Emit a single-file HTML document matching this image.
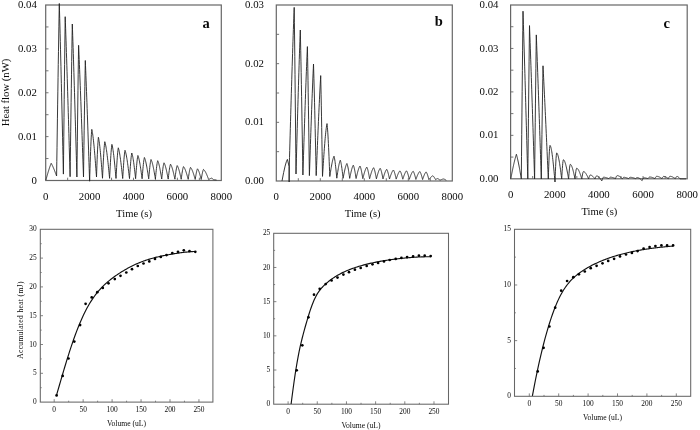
<!DOCTYPE html>
<html><head><meta charset="utf-8"><title>Figure</title>
<style>
html,body{margin:0;padding:0;background:#fff;}
body{width:700px;height:430px;overflow:hidden;font-family:"Liberation Serif",serif;}
svg{display:block;position:absolute;left:0;top:0;filter:grayscale(1);}
svg text{font-family:"Liberation Serif",serif;fill:#0a0a0a;}
</style></head><body>
<svg width="700" height="430" viewBox="0 0 700 430">
<rect width="700" height="430" fill="#fff"/>
<rect x="45.7" y="5" width="175.6" height="175.5" fill="none" stroke="#666" stroke-width="1.2"/>
<line x1="45.7" y1="158.56" x2="48.5" y2="158.56" stroke="#666" stroke-width="0.9"/>
<line x1="45.7" y1="136.62" x2="48.5" y2="136.62" stroke="#666" stroke-width="0.9"/>
<line x1="45.7" y1="114.69" x2="48.5" y2="114.69" stroke="#666" stroke-width="0.9"/>
<line x1="45.7" y1="92.75" x2="48.5" y2="92.75" stroke="#666" stroke-width="0.9"/>
<line x1="45.7" y1="70.81" x2="48.5" y2="70.81" stroke="#666" stroke-width="0.9"/>
<line x1="45.7" y1="48.88" x2="48.5" y2="48.88" stroke="#666" stroke-width="0.9"/>
<line x1="45.7" y1="26.94" x2="48.5" y2="26.94" stroke="#666" stroke-width="0.9"/>
<line x1="67.65" y1="180.5" x2="67.65" y2="177.7" stroke="#666" stroke-width="0.9"/>
<line x1="89.6" y1="180.5" x2="89.6" y2="177.7" stroke="#666" stroke-width="0.9"/>
<line x1="111.55" y1="180.5" x2="111.55" y2="177.7" stroke="#666" stroke-width="0.9"/>
<line x1="133.5" y1="180.5" x2="133.5" y2="177.7" stroke="#666" stroke-width="0.9"/>
<line x1="155.45" y1="180.5" x2="155.45" y2="177.7" stroke="#666" stroke-width="0.9"/>
<line x1="177.4" y1="180.5" x2="177.4" y2="177.7" stroke="#666" stroke-width="0.9"/>
<line x1="199.35" y1="180.5" x2="199.35" y2="177.7" stroke="#666" stroke-width="0.9"/>
<text x="36.8" y="183.55" font-size="10.8" text-anchor="end" >0</text>
<text x="36.8" y="139.68" font-size="10.8" text-anchor="end" >0.01</text>
<text x="36.8" y="95.8" font-size="10.8" text-anchor="end" >0.02</text>
<text x="36.8" y="51.92" font-size="10.8" text-anchor="end" >0.03</text>
<text x="36.8" y="8.05" font-size="10.8" text-anchor="end" >0.04</text>
<text x="45.7" y="200.3" font-size="10.8" text-anchor="middle" >0</text>
<text x="89.6" y="200.3" font-size="10.8" text-anchor="middle" >2000</text>
<text x="133.5" y="200.3" font-size="10.8" text-anchor="middle" >4000</text>
<text x="177.4" y="200.3" font-size="10.8" text-anchor="middle" >6000</text>
<text x="221.3" y="200.3" font-size="10.8" text-anchor="middle" >8000</text>
<text x="134" y="216.9" font-size="10.6" text-anchor="middle" >Time (s)</text>
<path d="M45.9 180 L46.1 179.27 L46.31 178.53 L46.51 177.8 L46.72 177.07 L46.92 176.35 L47.12 175.63 L47.33 174.91 L47.53 174.21 L47.73 173.5 L47.94 172.81 L48.14 172.13 L48.35 171.45 L48.55 170.79 L48.75 170.13 L48.96 169.49 L49.16 168.86 L49.37 168.24 L49.57 167.63 L49.77 167.04 L49.98 166.46 L50.18 165.9 L50.38 165.35 L50.59 164.81 L50.79 164.29 L51 163.79 L51.2 163.3 L51.41 163.67 L51.62 164.06 L51.82 164.45 L52.03 164.86 L52.24 165.28 L52.45 165.7 L52.65 166.14 L52.86 166.59 L53.07 167.06 L53.28 167.53 L53.48 168.01 L53.69 168.49 L53.9 168.99 L54.11 169.5 L54.32 170.01 L54.52 170.53 L54.73 171.06 L54.94 171.59 L55.15 172.13 L55.35 172.68 L55.56 173.22 L55.77 173.77 L55.98 174.33 L56.18 174.88 L56.39 175.44 L56.6 176 L56.81 161.6 L57.02 147.25 L57.22 132.99 L57.43 118.86 L57.64 104.91 L57.85 91.17 L58.05 77.68 L58.26 64.47 L58.47 51.58 L58.68 39.02 L58.88 26.81 L59.09 14.97 L59.3 3.5 L59.5 10.83 L59.71 18.32 L59.91 25.96 L60.12 33.75 L60.32 41.7 L60.53 49.79 L60.73 58.02 L60.94 66.39 L61.14 74.89 L61.35 83.5 L61.55 92.23 L61.76 101.05 L61.96 109.98 L62.17 118.98 L62.38 128.05 L62.58 137.19 L62.78 146.37 L62.99 155.6 L63.2 164.84 L63.4 174.1 L63.6 155.13 L63.8 136.29 L64 117.7 L64.2 99.46 L64.4 81.69 L64.6 64.46 L64.8 47.85 L65 31.92 L65.2 16.7 L65.4 22.42 L65.61 28.24 L65.81 34.16 L66.02 40.18 L66.22 46.31 L66.42 52.53 L66.63 58.84 L66.83 65.25 L67.04 71.74 L67.24 78.33 L67.45 84.99 L67.65 91.73 L67.85 98.54 L68.06 105.42 L68.26 112.37 L68.47 119.37 L68.67 126.42 L68.88 133.52 L69.08 140.65 L69.28 147.82 L69.49 155.02 L69.69 162.23 L69.9 169.46 L70.1 176.7 L70.3 161.64 L70.5 146.65 L70.7 131.79 L70.9 117.12 L71.1 102.7 L71.3 88.59 L71.5 74.83 L71.7 61.47 L71.9 48.53 L72.1 36.03 L72.3 24 L72.5 29.71 L72.7 35.52 L72.9 41.44 L73.1 47.47 L73.3 53.6 L73.5 59.83 L73.7 66.15 L73.9 72.58 L74.1 79.09 L74.3 85.69 L74.5 92.38 L74.7 99.14 L74.9 105.97 L75.1 112.88 L75.3 119.84 L75.5 126.86 L75.7 133.93 L75.9 141.04 L76.1 148.19 L76.3 155.37 L76.5 162.57 L76.7 169.78 L76.9 177 L77.11 159.15 L77.33 141.45 L77.54 124.05 L77.75 107.06 L77.96 90.61 L78.17 74.79 L78.39 59.67 L78.6 45.3 L78.8 50.01 L79.01 54.8 L79.21 59.67 L79.42 64.63 L79.62 69.67 L79.82 74.79 L80.03 79.99 L80.23 85.26 L80.44 90.61 L80.64 96.03 L80.85 101.51 L81.05 107.06 L81.25 112.67 L81.46 118.33 L81.66 124.05 L81.87 129.81 L82.07 135.61 L82.28 141.45 L82.48 147.33 L82.68 153.23 L82.89 159.15 L83.09 165.09 L83.3 171.04 L83.5 177 L83.72 161.21 L83.95 145.56 L84.17 130.16 L84.4 115.13 L84.62 100.58 L84.85 86.59 L85.08 73.21 L85.3 60.5 L85.5 65.44 L85.71 70.47 L85.91 75.61 L86.12 80.85 L86.32 86.18 L86.53 91.61 L86.73 97.12 L86.94 102.73 L87.14 108.42 L87.35 114.19 L87.55 120.03 L87.76 125.94 L87.96 131.92 L88.17 137.95 L88.37 144.03 L88.58 150.16 L88.78 156.32 L88.99 162.51 L89.19 168.73 L89.4 174.96 L89.6 181.2 L89.8 174.89 L90 168.68 L90.2 162.64 L90.4 156.86 L90.6 151.43 L90.8 146.41 L91 141.87 L91.2 137.86 L91.4 134.43 L91.6 131.6 L91.8 129.4 L92 130.29 L92.21 131.32 L92.41 132.48 L92.62 133.77 L92.82 135.19 L93.03 136.73 L93.23 138.4 L93.43 140.18 L93.64 142.08 L93.84 144.08 L94.05 146.19 L94.25 148.4 L94.46 150.7 L94.66 153.08 L94.87 155.54 L95.07 158.07 L95.27 160.65 L95.48 163.3 L95.68 165.98 L95.89 168.71 L96.09 171.46 L96.3 174.22 L96.5 177 L96.71 171.1 L96.92 165.32 L97.13 159.8 L97.34 154.63 L97.56 149.93 L97.77 145.78 L97.98 142.27 L98.19 139.43 L98.4 137.3 L98.61 138.2 L98.81 139.24 L99.02 140.44 L99.22 141.78 L99.43 143.27 L99.63 144.9 L99.84 146.66 L100.04 148.55 L100.25 150.57 L100.45 152.7 L100.66 154.93 L100.86 157.27 L101.06 159.7 L101.27 162.2 L101.47 164.77 L101.68 167.4 L101.89 170.08 L102.09 172.79 L102.3 175.53 L102.5 178.28 L102.71 173.83 L102.92 169.44 L103.13 165.17 L103.34 161.09 L103.55 157.26 L103.75 153.71 L103.96 150.5 L104.17 147.67 L104.38 145.25 L104.59 143.25 L104.8 141.7 L105 142.36 L105.2 143.11 L105.4 143.96 L105.6 144.89 L105.8 145.92 L106 147.04 L106.2 148.25 L106.4 149.53 L106.6 150.91 L106.8 152.36 L107 153.88 L107.2 155.47 L107.4 157.14 L107.6 158.86 L107.8 160.64 L108 162.47 L108.2 164.35 L108.4 166.28 L108.6 168.23 L108.8 170.22 L109 172.24 L109.2 174.27 L109.4 176.31 L109.6 178.36 L109.81 174.23 L110.02 170.15 L110.23 166.19 L110.44 162.4 L110.65 158.84 L110.85 155.55 L111.06 152.57 L111.27 149.95 L111.48 147.7 L111.69 145.84 L111.9 144.4 L112.11 145.14 L112.31 146.01 L112.52 147.01 L112.72 148.12 L112.93 149.36 L113.13 150.71 L113.34 152.18 L113.54 153.75 L113.75 155.42 L113.95 157.19 L114.16 159.05 L114.36 160.99 L114.56 163 L114.77 165.08 L114.97 167.22 L115.18 169.41 L115.39 171.63 L115.59 173.88 L115.8 176.16 L116 178.44 L116.21 174.71 L116.42 171.03 L116.63 167.46 L116.84 164.04 L117.05 160.83 L117.25 157.86 L117.46 155.18 L117.67 152.8 L117.88 150.77 L118.09 149.1 L118.3 147.8 L118.5 148.41 L118.7 149.1 L118.9 149.9 L119.1 150.78 L119.3 151.75 L119.5 152.82 L119.7 153.96 L119.9 155.19 L120.1 156.5 L120.3 157.89 L120.5 159.34 L120.7 160.86 L120.9 162.45 L121.1 164.09 L121.3 165.78 L121.5 167.51 L121.7 169.29 L121.9 171.09 L122.1 172.93 L122.3 174.78 L122.5 176.65 L122.7 178.52 L122.91 175.08 L123.12 171.7 L123.33 168.41 L123.54 165.26 L123.75 162.3 L123.95 159.57 L124.16 157.09 L124.37 154.91 L124.58 153.04 L124.79 151.5 L125 150.3 L125.2 150.86 L125.41 151.5 L125.61 152.23 L125.82 153.05 L126.02 153.94 L126.23 154.92 L126.43 155.98 L126.64 157.11 L126.84 158.32 L127.05 159.59 L127.25 160.93 L127.45 162.34 L127.66 163.79 L127.86 165.3 L128.07 166.86 L128.27 168.46 L128.48 170.09 L128.68 171.76 L128.89 173.45 L129.09 175.15 L129.3 176.87 L129.5 178.6 L129.71 175.48 L129.92 172.41 L130.13 169.43 L130.34 166.57 L130.55 163.89 L130.75 161.41 L130.96 159.16 L131.17 157.18 L131.38 155.48 L131.59 154.09 L131.8 153 L132.01 153.63 L132.22 154.38 L132.43 155.24 L132.64 156.21 L132.86 157.3 L133.07 158.49 L133.28 159.78 L133.49 161.17 L133.7 162.65 L133.91 164.21 L134.12 165.85 L134.33 167.55 L134.54 169.31 L134.76 171.13 L134.97 172.98 L135.18 174.86 L135.39 176.77 L135.6 178.68 L135.81 175.86 L136.02 173.08 L136.23 170.37 L136.44 167.79 L136.65 165.36 L136.85 163.11 L137.06 161.08 L137.27 159.29 L137.48 157.75 L137.69 156.48 L137.9 155.5 L138.11 156.01 L138.32 156.6 L138.53 157.28 L138.74 158.04 L138.95 158.89 L139.16 159.81 L139.37 160.81 L139.58 161.89 L139.79 163.03 L140 164.24 L140.21 165.51 L140.42 166.84 L140.63 168.21 L140.84 169.63 L141.05 171.09 L141.26 172.59 L141.47 174.11 L141.68 175.65 L141.89 177.2 L142.1 178.76 L142.31 176.17 L142.52 173.62 L142.73 171.14 L142.94 168.77 L143.15 166.54 L143.35 164.48 L143.56 162.62 L143.77 160.97 L143.98 159.56 L144.19 158.4 L144.4 157.5 L144.6 157.94 L144.81 158.46 L145.01 159.04 L145.22 159.69 L145.42 160.42 L145.63 161.21 L145.83 162.06 L146.04 162.98 L146.24 163.95 L146.45 164.98 L146.65 166.07 L146.86 167.2 L147.06 168.38 L147.27 169.59 L147.47 170.85 L147.68 172.13 L147.88 173.44 L148.09 174.77 L148.29 176.12 L148.5 177.48 L148.7 178.84 L148.91 176.49 L149.12 174.16 L149.33 171.91 L149.54 169.75 L149.75 167.72 L149.95 165.85 L150.16 164.16 L150.37 162.66 L150.58 161.38 L150.79 160.32 L151 159.5 L151.21 159.9 L151.42 160.37 L151.63 160.9 L151.84 161.5 L152.05 162.15 L152.26 162.87 L152.47 163.65 L152.68 164.48 L152.89 165.37 L153.1 166.31 L153.3 167.3 L153.51 168.33 L153.72 169.4 L153.93 170.5 L154.14 171.64 L154.35 172.81 L154.56 174.01 L154.77 175.22 L154.98 176.44 L155.19 177.68 L155.4 178.92 L155.61 176.7 L155.82 174.52 L156.03 172.39 L156.24 170.36 L156.45 168.45 L156.65 166.68 L156.86 165.09 L157.07 163.68 L157.28 162.47 L157.49 161.47 L157.7 160.7 L157.9 161.1 L158.1 161.57 L158.3 162.1 L158.5 162.7 L158.7 163.37 L158.9 164.09 L159.1 164.88 L159.3 165.72 L159.5 166.62 L159.7 167.58 L159.9 168.58 L160.1 169.62 L160.3 170.7 L160.5 171.82 L160.7 172.97 L160.9 174.14 L161.1 175.34 L161.3 176.55 L161.5 177.77 L161.7 179 L161.91 177.03 L162.12 175.08 L162.33 173.19 L162.54 171.39 L162.75 169.69 L162.95 168.12 L163.16 166.7 L163.37 165.45 L163.58 164.37 L163.79 163.49 L164 162.8 L164.21 163.16 L164.42 163.57 L164.63 164.05 L164.84 164.58 L165.05 165.17 L165.26 165.82 L165.47 166.52 L165.68 167.27 L165.89 168.07 L166.1 168.92 L166.31 169.81 L166.52 170.73 L166.73 171.7 L166.94 172.69 L167.15 173.71 L167.36 174.76 L167.57 175.82 L167.78 176.9 L167.99 177.99 L168.2 179.08 L168.41 177.27 L168.62 175.48 L168.83 173.75 L169.04 172.09 L169.25 170.53 L169.45 169.09 L169.66 167.78 L169.87 166.63 L170.08 165.64 L170.29 164.83 L170.5 164.2 L170.71 164.51 L170.92 164.87 L171.13 165.28 L171.34 165.74 L171.55 166.25 L171.76 166.8 L171.97 167.4 L172.18 168.04 L172.39 168.72 L172.6 169.45 L172.8 170.21 L173.01 171 L173.22 171.82 L173.43 172.68 L173.64 173.56 L173.85 174.46 L174.06 175.37 L174.27 176.31 L174.48 177.25 L174.69 178.2 L174.9 179.16 L175.11 177.51 L175.32 175.88 L175.53 174.3 L175.74 172.79 L175.95 171.37 L176.15 170.05 L176.36 168.86 L176.57 167.81 L176.78 166.92 L176.99 166.18 L177.2 165.6 L177.4 165.9 L177.6 166.25 L177.8 166.64 L178 167.09 L178.2 167.59 L178.4 168.13 L178.6 168.72 L178.8 169.35 L179 170.02 L179.2 170.73 L179.4 171.47 L179.6 172.25 L179.8 173.05 L180 173.89 L180.2 174.74 L180.4 175.62 L180.6 176.51 L180.8 177.41 L181 178.33 L181.2 179.24 L181.41 177.7 L181.62 176.18 L181.83 174.71 L182.04 173.3 L182.25 171.98 L182.45 170.75 L182.66 169.64 L182.87 168.66 L183.08 167.83 L183.29 167.14 L183.5 166.6 L183.7 166.84 L183.91 167.11 L184.11 167.42 L184.32 167.77 L184.52 168.15 L184.73 168.56 L184.93 169 L185.13 169.48 L185.34 169.99 L185.54 170.52 L185.75 171.09 L185.95 171.68 L186.16 172.29 L186.36 172.93 L186.57 173.58 L186.77 174.26 L186.97 174.95 L187.18 175.66 L187.38 176.38 L187.59 177.1 L187.79 177.84 L188 178.58 L188.2 179.32 L188.41 177.87 L188.62 176.44 L188.83 175.05 L189.04 173.72 L189.25 172.47 L189.45 171.31 L189.66 170.27 L189.87 169.35 L190.08 168.56 L190.29 167.91 L190.5 167.4 L190.7 167.63 L190.91 167.88 L191.11 168.18 L191.32 168.5 L191.52 168.86 L191.73 169.25 L191.93 169.67 L192.13 170.12 L192.34 170.6 L192.54 171.1 L192.75 171.63 L192.95 172.19 L193.16 172.77 L193.36 173.37 L193.57 173.99 L193.77 174.63 L193.97 175.28 L194.18 175.95 L194.38 176.62 L194.59 177.31 L194.79 178 L195 178.7 L195.2 179.4 L195.41 178.11 L195.62 176.84 L195.83 175.6 L196.04 174.42 L196.25 173.31 L196.45 172.28 L196.66 171.35 L196.87 170.53 L197.08 169.83 L197.29 169.25 L197.5 168.8 L197.71 169.06 L197.91 169.37 L198.12 169.73 L198.32 170.14 L198.53 170.59 L198.73 171.08 L198.94 171.62 L199.14 172.2 L199.35 172.81 L199.56 173.46 L199.76 174.14 L199.97 174.85 L200.17 175.59 L200.38 176.34 L200.58 177.11 L200.79 177.89 L200.99 178.68 L201.2 179.48 L201.41 178.25 L201.62 177.04 L201.83 175.87 L202.04 174.74 L202.25 173.69 L202.45 172.71 L202.66 171.83 L202.87 171.05 L203.08 170.38 L203.29 169.83 L203.5 169.4 L203.71 169.58 L203.92 169.77 L204.12 170 L204.33 170.25 L204.54 170.52 L204.75 170.81 L204.96 171.12 L205.16 171.46 L205.37 171.82 L205.58 172.2 L205.79 172.6 L206 173.02 L206.2 173.45 L206.41 173.9 L206.62 174.37 L206.83 174.85 L207.04 175.35 L207.24 175.85 L207.45 176.37 L207.66 176.89 L207.87 177.43 L208.08 177.96 L208.28 178.51 L208.49 179.05 L208.7 179.6 L208.9 179.47 L209.1 179.33 L209.3 179.2 L209.5 179.08 L209.7 178.95 L209.9 178.84 L210.1 178.73 L210.3 178.62 L210.5 178.53 L210.7 178.44 L210.9 178.37 L211.1 178.3 L211.3 178.25 L211.5 178.2 L211.71 178.27 L211.92 178.36 L212.13 178.48 L212.34 178.61 L212.55 178.76 L212.76 178.93 L212.97 179.11 L213.18 179.3 L213.39 179.5 L213.6 179.7 L213.81 179.71 L214.01 179.72 L214.22 179.74 L214.43 179.75 L214.64 179.77 L214.84 179.79 L215.05 179.81 L215.26 179.84 L215.46 179.86 L215.67 179.89 L215.88 179.91 L216.09 179.94 L216.29 179.97 L216.5 180" fill="none" stroke="#222" stroke-width="0.9" stroke-linejoin="round"/>
<text x="202.4" y="27.7" font-size="14.5" text-anchor="start" font-weight="bold" fill="#000">a</text>
<rect x="276.3" y="5" width="176" height="176" fill="none" stroke="#666" stroke-width="1.2"/>
<line x1="276.3" y1="151.67" x2="279.1" y2="151.67" stroke="#666" stroke-width="0.9"/>
<line x1="276.3" y1="122.33" x2="279.1" y2="122.33" stroke="#666" stroke-width="0.9"/>
<line x1="276.3" y1="93" x2="279.1" y2="93" stroke="#666" stroke-width="0.9"/>
<line x1="276.3" y1="63.67" x2="279.1" y2="63.67" stroke="#666" stroke-width="0.9"/>
<line x1="276.3" y1="34.33" x2="279.1" y2="34.33" stroke="#666" stroke-width="0.9"/>
<line x1="298.3" y1="181" x2="298.3" y2="178.2" stroke="#666" stroke-width="0.9"/>
<line x1="320.3" y1="181" x2="320.3" y2="178.2" stroke="#666" stroke-width="0.9"/>
<line x1="342.3" y1="181" x2="342.3" y2="178.2" stroke="#666" stroke-width="0.9"/>
<line x1="364.3" y1="181" x2="364.3" y2="178.2" stroke="#666" stroke-width="0.9"/>
<line x1="386.3" y1="181" x2="386.3" y2="178.2" stroke="#666" stroke-width="0.9"/>
<line x1="408.3" y1="181" x2="408.3" y2="178.2" stroke="#666" stroke-width="0.9"/>
<line x1="430.3" y1="181" x2="430.3" y2="178.2" stroke="#666" stroke-width="0.9"/>
<text x="264" y="184.05" font-size="10.8" text-anchor="end" >0.00</text>
<text x="264" y="125.38" font-size="10.8" text-anchor="end" >0.01</text>
<text x="264" y="66.72" font-size="10.8" text-anchor="end" >0.02</text>
<text x="264" y="8.05" font-size="10.8" text-anchor="end" >0.03</text>
<text x="276.3" y="200.3" font-size="10.8" text-anchor="middle" >0</text>
<text x="320.3" y="200.3" font-size="10.8" text-anchor="middle" >2000</text>
<text x="364.3" y="200.3" font-size="10.8" text-anchor="middle" >4000</text>
<text x="408.3" y="200.3" font-size="10.8" text-anchor="middle" >6000</text>
<text x="452.3" y="200.3" font-size="10.8" text-anchor="middle" >8000</text>
<text x="362.7" y="216.9" font-size="10.6" text-anchor="middle" >Time (s)</text>
<path d="M282 181 Q285.5 162 287.4 159.4 L289.1 166.4 L289.15 182 L289.3 165 L289.3 165 L289.5 157.69 L289.71 150.38 L289.91 143.09 L290.12 135.83 L290.32 128.6 L290.52 121.42 L290.73 114.29 L290.93 107.21 L291.14 100.21 L291.34 93.28 L291.55 86.43 L291.75 79.67 L291.95 73.01 L292.16 66.45 L292.36 59.99 L292.57 53.65 L292.77 47.42 L292.98 41.32 L293.18 35.34 L293.38 29.49 L293.59 23.77 L293.79 18.18 L294 12.72 L294.2 7.4 L294.4 22.72 L294.6 39.03 L294.8 56.29 L295 74.43 L295.2 93.35 L295.4 112.91 L295.6 132.99 L295.8 153.41 L296 174 L296.2 166.36 L296.41 158.74 L296.61 151.13 L296.82 143.57 L297.02 136.05 L297.23 128.59 L297.43 121.2 L297.64 113.89 L297.84 106.67 L298.05 99.55 L298.25 92.55 L298.46 85.65 L298.66 78.89 L298.87 72.26 L299.07 65.77 L299.28 59.42 L299.48 53.22 L299.69 47.18 L299.89 41.29 L300.1 35.57 L300.3 30 L300.52 39.91 L300.73 50.32 L300.95 61.21 L301.17 72.55 L301.38 84.33 L301.6 96.49 L301.82 109.01 L302.03 121.83 L302.25 134.9 L302.47 148.16 L302.68 161.55 L302.9 175 L303.1 168.5 L303.31 162.01 L303.51 155.53 L303.72 149.09 L303.92 142.68 L304.13 136.32 L304.33 130.01 L304.54 123.76 L304.74 117.59 L304.95 111.49 L305.15 105.48 L305.35 99.56 L305.56 93.74 L305.76 88.03 L305.97 82.42 L306.17 76.94 L306.38 71.56 L306.58 66.32 L306.79 61.19 L306.99 56.2 L307.2 51.33 L307.4 46.6 L307.6 57.24 L307.8 68.5 L308 80.37 L308.2 92.81 L308.4 105.76 L308.6 119.16 L308.8 132.93 L309 146.99 L309.2 161.24 L309.4 175.6 L309.6 169.38 L309.81 163.18 L310.01 157 L310.22 150.85 L310.42 144.74 L310.63 138.68 L310.83 132.69 L311.04 126.77 L311.25 120.93 L311.45 115.18 L311.65 109.52 L311.86 103.97 L312.06 98.54 L312.27 93.22 L312.48 88.02 L312.68 82.95 L312.88 78.01 L313.09 73.2 L313.3 68.53 L313.5 64 L313.71 71.03 L313.92 78.38 L314.12 86.05 L314.33 94.03 L314.54 102.29 L314.75 110.82 L314.95 119.59 L315.16 128.58 L315.37 137.76 L315.58 147.08 L315.78 156.52 L315.99 166.04 L316.2 175.6 L316.4 170.54 L316.61 165.48 L316.81 160.44 L317.02 155.42 L317.22 150.43 L317.43 145.47 L317.63 140.56 L317.84 135.7 L318.04 130.89 L318.25 126.14 L318.45 121.46 L318.65 116.85 L318.86 112.32 L319.06 107.87 L319.27 103.5 L319.47 99.23 L319.68 95.04 L319.88 90.96 L320.09 86.97 L320.29 83.08 L320.5 79.29 L320.7 75.6 L320.9 84.87 L321.1 94.74 L321.3 105.18 L321.5 116.16 L321.7 127.6 L321.9 139.44 L322.1 151.58 L322.3 163.94 L322.5 176.4 L322.7 173.18 L322.91 169.97 L323.11 166.79 L323.32 163.63 L323.52 160.53 L323.73 157.48 L323.93 154.5 L324.14 151.59 L324.34 148.77 L324.55 146.05 L324.75 143.44 L324.95 140.94 L325.16 138.56 L325.36 136.31 L325.57 134.2 L325.77 132.22 L325.98 130.4 L326.18 128.72 L326.39 127.2 L326.59 125.84 L326.8 124.64 L327 123.6 L327.2 125.31 L327.4 127.42 L327.6 129.92 L327.8 132.79 L328 136.02 L328.2 139.59 L328.4 143.48 L328.6 147.64 L328.8 152.06 L329 156.68 L329.2 161.48 L329.4 166.41 L329.6 171.43 L329.8 176.5 L330.01 175.14 L330.22 173.78 L330.43 172.44 L330.64 171.11 L330.85 169.81 L331.06 168.53 L331.27 167.29 L331.48 166.09 L331.69 164.94 L331.9 163.83 L332.11 162.77 L332.32 161.77 L332.53 160.84 L332.74 159.96 L332.95 159.16 L333.16 158.42 L333.37 157.75 L333.58 157.16 L333.79 156.64 L334 156.2 L334.2 156.91 L334.4 157.79 L334.6 158.83 L334.8 160.02 L335 161.37 L335.2 162.85 L335.4 164.47 L335.6 166.2 L335.8 168.03 L336 169.96 L336.2 171.95 L336.4 174.01 L336.6 176.09 L336.8 178.2 L337.01 176.78 L337.21 175.37 L337.42 173.97 L337.62 172.6 L337.83 171.27 L338.04 169.97 L338.24 168.73 L338.45 167.54 L338.65 166.41 L338.86 165.35 L339.06 164.36 L339.27 163.45 L339.48 162.62 L339.68 161.88 L339.89 161.23 L340.09 160.67 L340.3 160.2 L340.5 160.79 L340.7 161.51 L340.9 162.36 L341.1 163.34 L341.3 164.45 L341.5 165.67 L341.7 167 L341.9 168.43 L342.1 169.94 L342.3 171.52 L342.5 173.16 L342.7 174.85 L342.9 176.57 L343.1 178.3 L343.31 177.2 L343.52 176.1 L343.73 175.02 L343.94 173.95 L344.16 172.9 L344.37 171.89 L344.58 170.9 L344.79 169.96 L345 169.06 L345.21 168.21 L345.42 167.41 L345.63 166.66 L345.84 165.98 L346.06 165.35 L346.27 164.79 L346.48 164.29 L346.69 163.86 L346.9 163.5 L347.1 163.98 L347.3 164.58 L347.5 165.28 L347.7 166.09 L347.9 167 L348.1 168 L348.3 169.1 L348.5 170.27 L348.7 171.52 L348.9 172.82 L349.1 174.17 L349.3 175.56 L349.5 176.97 L349.7 178.4 L349.9 177.42 L350.1 176.44 L350.3 175.47 L350.5 174.52 L350.7 173.59 L350.9 172.68 L351.1 171.8 L351.3 170.96 L351.5 170.16 L351.7 169.4 L351.9 168.69 L352.1 168.02 L352.3 167.41 L352.5 166.85 L352.7 166.35 L352.9 165.91 L353.1 165.52 L353.3 165.2 L353.5 165.63 L353.7 166.16 L353.9 166.79 L354.1 167.51 L354.3 168.32 L354.5 169.22 L354.7 170.2 L354.9 171.24 L355.1 172.35 L355.3 173.52 L355.5 174.72 L355.7 175.96 L355.9 177.23 L356.1 178.5 L356.31 177.62 L356.51 176.74 L356.72 175.87 L356.92 175.01 L357.13 174.17 L357.33 173.35 L357.54 172.56 L357.74 171.79 L357.95 171.05 L358.15 170.35 L358.36 169.69 L358.56 169.06 L358.77 168.48 L358.97 167.95 L359.18 167.46 L359.38 167.02 L359.59 166.63 L359.79 166.29 L360 166 L360.2 166.41 L360.4 166.91 L360.6 167.5 L360.8 168.19 L361 168.96 L361.2 169.81 L361.4 170.73 L361.6 171.73 L361.8 172.78 L362 173.88 L362.2 175.02 L362.4 176.2 L362.6 177.39 L362.8 178.6 L363 177.83 L363.2 177.06 L363.4 176.3 L363.6 175.55 L363.8 174.81 L364 174.09 L364.2 173.38 L364.4 172.7 L364.6 172.05 L364.8 171.42 L365 170.82 L365.2 170.26 L365.4 169.73 L365.6 169.23 L365.8 168.78 L366 168.36 L366.2 167.98 L366.4 167.64 L366.6 167.35 L366.8 167.1 L367 167.48 L367.2 167.94 L367.4 168.48 L367.6 169.11 L367.8 169.82 L368 170.61 L368.2 171.46 L368.4 172.37 L368.6 173.34 L368.8 174.35 L369 175.41 L369.2 176.49 L369.4 177.59 L369.6 178.7 L369.8 177.96 L370 177.23 L370.2 176.5 L370.4 175.78 L370.6 175.07 L370.8 174.38 L371 173.71 L371.2 173.06 L371.4 172.43 L371.6 171.83 L371.8 171.26 L372 170.72 L372.2 170.21 L372.4 169.74 L372.6 169.3 L372.8 168.9 L373 168.54 L373.2 168.22 L373.4 167.94 L373.6 167.7 L373.8 168.06 L374 168.5 L374.2 169.03 L374.4 169.63 L374.6 170.31 L374.8 171.06 L375 171.87 L375.2 172.74 L375.4 173.67 L375.6 174.64 L375.8 175.65 L376 176.68 L376.2 177.74 L376.4 178.8 L376.61 178.02 L376.82 177.24 L377.03 176.47 L377.24 175.71 L377.46 174.97 L377.67 174.25 L377.88 173.55 L378.09 172.88 L378.3 172.25 L378.51 171.64 L378.72 171.07 L378.93 170.54 L379.14 170.06 L379.36 169.61 L379.57 169.21 L379.78 168.86 L379.99 168.56 L380.2 168.3 L380.4 168.64 L380.6 169.07 L380.8 169.57 L381 170.14 L381.2 170.79 L381.4 171.5 L381.6 172.28 L381.8 173.12 L382 174 L382.2 174.93 L382.4 175.89 L382.6 176.88 L382.8 177.89 L383 178.9 L383.21 178.18 L383.41 177.47 L383.62 176.77 L383.82 176.08 L384.03 175.4 L384.23 174.74 L384.44 174.1 L384.64 173.49 L384.85 172.91 L385.06 172.35 L385.26 171.84 L385.47 171.35 L385.67 170.91 L385.88 170.5 L386.08 170.14 L386.29 169.81 L386.49 169.54 L386.7 169.3 L386.9 169.61 L387.1 170 L387.3 170.46 L387.5 170.98 L387.7 171.58 L387.9 172.23 L388.1 172.94 L388.3 173.71 L388.5 174.52 L388.7 175.37 L388.9 176.25 L389.1 177.15 L389.3 178.07 L389.5 179 L389.71 178.36 L389.91 177.73 L390.12 177.11 L390.32 176.49 L390.53 175.88 L390.73 175.29 L390.94 174.72 L391.14 174.17 L391.35 173.64 L391.55 173.13 L391.76 172.65 L391.96 172.21 L392.17 171.79 L392.37 171.4 L392.58 171.05 L392.78 170.73 L392.99 170.45 L393.19 170.21 L393.4 170 L393.6 170.29 L393.8 170.66 L394 171.09 L394.2 171.58 L394.4 172.14 L394.6 172.75 L394.8 173.42 L395 174.14 L395.2 174.9 L395.4 175.69 L395.6 176.52 L395.8 177.37 L396 178.23 L396.2 179.1 L396.4 178.51 L396.6 177.93 L396.8 177.35 L397 176.78 L397.2 176.23 L397.4 175.68 L397.6 175.15 L397.8 174.64 L398 174.15 L398.2 173.69 L398.4 173.25 L398.6 172.83 L398.8 172.45 L399 172.09 L399.2 171.77 L399.4 171.48 L399.6 171.22 L399.8 170.99 L400 170.8 L400.2 171.07 L400.4 171.41 L400.6 171.8 L400.8 172.26 L401 172.77 L401.2 173.34 L401.4 173.96 L401.6 174.62 L401.8 175.32 L402 176.05 L402.2 176.82 L402.4 177.6 L402.6 178.4 L402.8 179.2 L403.01 178.57 L403.21 177.95 L403.42 177.34 L403.62 176.73 L403.83 176.14 L404.03 175.56 L404.24 175 L404.44 174.47 L404.65 173.96 L404.86 173.47 L405.06 173.02 L405.27 172.6 L405.47 172.21 L405.68 171.85 L405.88 171.53 L406.09 171.25 L406.29 171.01 L406.5 170.8 L406.7 171.07 L406.9 171.41 L407.1 171.81 L407.3 172.28 L407.5 172.8 L407.7 173.37 L407.9 173.99 L408.1 174.66 L408.3 175.37 L408.5 176.12 L408.7 176.89 L408.9 177.68 L409.1 178.49 L409.3 179.3 L409.5 178.73 L409.7 178.16 L409.9 177.6 L410.1 177.04 L410.3 176.5 L410.5 175.96 L410.7 175.45 L410.9 174.95 L411.1 174.47 L411.3 174.02 L411.5 173.59 L411.7 173.19 L411.9 172.81 L412.1 172.46 L412.3 172.15 L412.5 171.86 L412.7 171.61 L412.9 171.39 L413.1 171.2 L413.3 171.47 L413.5 171.79 L413.7 172.18 L413.9 172.62 L414.1 173.13 L414.3 173.68 L414.5 174.28 L414.7 174.93 L414.9 175.61 L415.1 176.33 L415.3 177.07 L415.5 177.84 L415.7 178.61 L415.9 179.4 L416.11 178.84 L416.31 178.29 L416.52 177.74 L416.72 177.2 L416.93 176.66 L417.13 176.15 L417.34 175.64 L417.54 175.16 L417.75 174.69 L417.95 174.25 L418.16 173.83 L418.36 173.44 L418.57 173.07 L418.77 172.73 L418.98 172.42 L419.18 172.14 L419.39 171.9 L419.59 171.68 L419.8 171.5 L420 171.76 L420.2 172.08 L420.4 172.46 L420.6 172.89 L420.8 173.38 L421 173.92 L421.2 174.51 L421.4 175.14 L421.6 175.8 L421.8 176.5 L422 177.23 L422.2 177.97 L422.4 178.73 L422.6 179.5 L422.81 178.9 L423.01 178.3 L423.22 177.72 L423.42 177.14 L423.63 176.57 L423.84 176.03 L424.04 175.5 L424.25 175 L424.45 174.52 L424.66 174.07 L424.86 173.66 L425.07 173.27 L425.28 172.92 L425.48 172.61 L425.69 172.34 L425.89 172.1 L426.1 171.9 L426.3 172.15 L426.5 172.46 L426.7 172.82 L426.9 173.24 L427.1 173.71 L427.3 174.23 L427.5 174.79 L427.7 175.4 L427.9 176.04 L428.1 176.72 L428.3 177.41 L428.5 178.13 L428.7 178.86 L428.9 179.6 L429.11 179.33 L429.31 179.06 L429.52 178.8 L429.72 178.54 L429.93 178.28 L430.13 178.03 L430.34 177.79 L430.54 177.56 L430.75 177.34 L430.95 177.12 L431.16 176.92 L431.36 176.73 L431.57 176.55 L431.77 176.39 L431.98 176.24 L432.18 176.11 L432.39 175.99 L432.59 175.89 L432.8 175.8 L433 175.93 L433.2 176.08 L433.4 176.27 L433.6 176.48 L433.8 176.72 L434 176.98 L434.2 177.27 L434.4 177.57 L434.6 177.9 L434.8 178.24 L435 178.59 L435.2 178.96 L435.4 179.33 L435.6 179.7 L435.81 179.54 L436.02 179.38 L436.23 179.22 L436.44 179.08 L436.66 178.95 L436.87 178.84 L437.08 178.74 L437.29 178.66 L437.5 178.6 L437.71 178.66 L437.92 178.74 L438.12 178.83 L438.33 178.94 L438.54 179.07 L438.75 179.2 L438.96 179.35 L439.17 179.51 L439.38 179.67 L439.58 179.84 L439.79 180.02 L440 180.2 L440.21 180.11 L440.41 180.01 L440.62 179.92 L440.82 179.83 L441.03 179.74 L441.24 179.65 L441.44 179.57 L441.65 179.49 L441.85 179.41 L442.06 179.34 L442.26 179.28 L442.47 179.22 L442.68 179.16 L442.88 179.11 L443.09 179.07 L443.29 179.03 L443.5 179 L443.7 179.04 L443.9 179.09 L444.1 179.16 L444.3 179.23 L444.5 179.31 L444.7 179.39 L444.9 179.49 L445.1 179.59 L445.3 179.7 L445.5 179.81 L445.7 179.93 L445.9 180.05 L446.1 180.18 L446.3 180.3" fill="none" stroke="#222" stroke-width="0.9" stroke-linejoin="round"/>
<text x="434.7" y="25.9" font-size="14.5" text-anchor="start" font-weight="bold" fill="#000">b</text>
<rect x="510.6" y="5" width="176.6" height="173.8" fill="none" stroke="#666" stroke-width="1.2"/>
<line x1="510.6" y1="157.08" x2="513.4" y2="157.08" stroke="#666" stroke-width="0.9"/>
<line x1="510.6" y1="135.35" x2="513.4" y2="135.35" stroke="#666" stroke-width="0.9"/>
<line x1="510.6" y1="113.62" x2="513.4" y2="113.62" stroke="#666" stroke-width="0.9"/>
<line x1="510.6" y1="91.9" x2="513.4" y2="91.9" stroke="#666" stroke-width="0.9"/>
<line x1="510.6" y1="70.18" x2="513.4" y2="70.18" stroke="#666" stroke-width="0.9"/>
<line x1="510.6" y1="48.45" x2="513.4" y2="48.45" stroke="#666" stroke-width="0.9"/>
<line x1="510.6" y1="26.72" x2="513.4" y2="26.72" stroke="#666" stroke-width="0.9"/>
<line x1="532.68" y1="178.8" x2="532.68" y2="176" stroke="#666" stroke-width="0.9"/>
<line x1="554.75" y1="178.8" x2="554.75" y2="176" stroke="#666" stroke-width="0.9"/>
<line x1="576.83" y1="178.8" x2="576.83" y2="176" stroke="#666" stroke-width="0.9"/>
<line x1="598.9" y1="178.8" x2="598.9" y2="176" stroke="#666" stroke-width="0.9"/>
<line x1="620.98" y1="178.8" x2="620.98" y2="176" stroke="#666" stroke-width="0.9"/>
<line x1="643.05" y1="178.8" x2="643.05" y2="176" stroke="#666" stroke-width="0.9"/>
<line x1="665.12" y1="178.8" x2="665.12" y2="176" stroke="#666" stroke-width="0.9"/>
<text x="498.5" y="181.85" font-size="10.8" text-anchor="end" >0.00</text>
<text x="498.5" y="138.4" font-size="10.8" text-anchor="end" >0.01</text>
<text x="498.5" y="94.95" font-size="10.8" text-anchor="end" >0.02</text>
<text x="498.5" y="51.5" font-size="10.8" text-anchor="end" >0.03</text>
<text x="498.5" y="8.05" font-size="10.8" text-anchor="end" >0.04</text>
<text x="510.6" y="198.3" font-size="10.8" text-anchor="middle" >0</text>
<text x="554.75" y="198.3" font-size="10.8" text-anchor="middle" >2000</text>
<text x="598.9" y="198.3" font-size="10.8" text-anchor="middle" >4000</text>
<text x="643.05" y="198.3" font-size="10.8" text-anchor="middle" >6000</text>
<text x="687.2" y="198.3" font-size="10.8" text-anchor="middle" >8000</text>
<text x="599.4" y="214.9" font-size="10.6" text-anchor="middle" >Time (s)</text>
<path d="M510.8 178.6 L511.01 177.55 L511.21 176.49 L511.42 175.44 L511.63 174.4 L511.84 173.36 L512.04 172.33 L512.25 171.3 L512.46 170.29 L512.67 169.28 L512.87 168.29 L513.08 167.32 L513.29 166.35 L513.5 165.41 L513.7 164.48 L513.91 163.57 L514.12 162.67 L514.33 161.8 L514.53 160.95 L514.74 160.12 L514.95 159.31 L515.16 158.52 L515.36 157.76 L515.57 157.02 L515.78 156.3 L515.99 155.61 L516.19 154.94 L516.4 154.3 L516.6 155.03 L516.81 155.79 L517.01 156.58 L517.22 157.41 L517.42 158.26 L517.62 159.15 L517.83 160.06 L518.03 161 L518.24 161.97 L518.44 162.96 L518.65 163.98 L518.85 165.03 L519.05 166.09 L519.26 167.18 L519.46 168.29 L519.67 169.41 L519.87 170.55 L520.07 171.7 L520.28 172.86 L520.48 174.04 L520.69 175.22 L520.89 176.41 L521.1 177.6 L521.3 178.8 L521.51 156.68 L521.72 134.68 L521.94 112.92 L522.15 91.53 L522.36 70.59 L522.58 50.19 L522.79 30.38 L523 11.2 L523.21 17.8 L523.42 24.48 L523.63 31.24 L523.83 38.07 L524.04 44.98 L524.25 51.96 L524.46 59.02 L524.67 66.14 L524.88 73.33 L525.09 80.58 L525.3 87.9 L525.5 95.27 L525.71 102.69 L525.92 110.17 L526.13 117.69 L526.34 125.25 L526.55 132.85 L526.76 140.47 L526.97 148.13 L527.17 155.8 L527.38 163.49 L527.59 171.19 L527.8 178.9 L528.01 158.66 L528.22 138.54 L528.44 118.64 L528.65 99.08 L528.86 79.92 L529.08 61.26 L529.29 43.14 L529.5 25.6 L529.7 31.15 L529.91 36.76 L530.11 42.43 L530.32 48.16 L530.52 53.94 L530.72 59.79 L530.93 65.69 L531.13 71.65 L531.34 77.66 L531.54 83.72 L531.74 89.82 L531.95 95.98 L532.15 102.18 L532.36 108.42 L532.56 114.7 L532.76 121.02 L532.97 127.36 L533.17 133.74 L533.38 140.14 L533.58 146.57 L533.78 153.01 L533.99 159.47 L534.19 165.94 L534.4 172.42 L534.6 178.9 L534.81 159.89 L535.02 140.99 L535.24 122.3 L535.45 103.92 L535.66 85.93 L535.88 68.4 L536.09 51.38 L536.3 34.9 L536.5 40.11 L536.7 45.38 L536.9 50.71 L537.1 56.09 L537.3 61.52 L537.5 67.02 L537.7 72.56 L537.9 78.15 L538.1 83.8 L538.3 89.49 L538.5 95.23 L538.7 101.01 L538.9 106.83 L539.1 112.7 L539.3 118.6 L539.5 124.53 L539.7 130.49 L539.9 136.48 L540.1 142.5 L540.3 148.53 L540.5 154.58 L540.7 160.65 L540.9 166.73 L541.1 172.81 L541.3 178.9 L541.51 163.97 L541.72 149.12 L541.94 134.45 L542.15 120.01 L542.36 105.88 L542.58 92.11 L542.79 78.74 L543 65.8 L543.2 69.74 L543.41 73.71 L543.61 77.73 L543.82 81.79 L544.02 85.89 L544.22 90.02 L544.43 94.2 L544.63 98.42 L544.83 102.67 L545.04 106.95 L545.24 111.27 L545.45 115.62 L545.65 120.01 L545.85 124.42 L546.06 128.86 L546.26 133.33 L546.47 137.81 L546.67 142.32 L546.87 146.85 L547.08 151.4 L547.28 155.96 L547.48 160.53 L547.69 165.12 L547.89 169.71 L548.1 174.3 L548.3 178.9 L548.51 172.6 L548.72 166.52 L548.94 160.89 L549.15 155.91 L549.36 151.74 L549.58 148.53 L549.79 146.4 L550 145.4 L550.2 145.61 L550.4 145.95 L550.6 146.42 L550.8 147.02 L551 147.74 L551.2 148.59 L551.4 149.56 L551.6 150.65 L551.8 151.85 L552 153.15 L552.2 154.57 L552.4 156.08 L552.6 157.69 L552.8 159.39 L553 161.17 L553.2 163.03 L553.4 164.96 L553.6 166.95 L553.8 169 L554 171.09 L554.2 173.22 L554.4 175.39 L554.6 177.58 L554.8 179.79 L555 182 L555.21 176.53 L555.42 171.25 L555.64 166.36 L555.85 162.03 L556.06 158.41 L556.28 155.62 L556.49 153.77 L556.7 152.9 L556.91 153.06 L557.12 153.32 L557.33 153.67 L557.53 154.13 L557.74 154.68 L557.95 155.33 L558.16 156.07 L558.37 156.9 L558.58 157.82 L558.78 158.82 L558.99 159.9 L559.2 161.05 L559.41 162.28 L559.62 163.57 L559.82 164.92 L560.03 166.33 L560.24 167.79 L560.45 169.3 L560.66 170.84 L560.87 172.41 L561.07 174.01 L561.28 175.63 L561.49 177.26 L561.7 178.9 L561.91 175.29 L562.12 171.81 L562.34 168.58 L562.55 165.72 L562.76 163.33 L562.97 161.5 L563.19 160.27 L563.4 159.7 L563.61 159.81 L563.82 159.99 L564.02 160.24 L564.23 160.55 L564.44 160.93 L564.65 161.37 L564.86 161.88 L565.06 162.45 L565.27 163.08 L565.48 163.77 L565.69 164.51 L565.9 165.31 L566.1 166.15 L566.31 167.04 L566.52 167.98 L566.73 168.95 L566.94 169.96 L567.14 171 L567.35 172.08 L567.56 173.18 L567.77 174.3 L567.98 175.43 L568.18 176.58 L568.39 177.74 L568.6 178.9 L568.81 176.15 L569.02 173.51 L569.24 171.05 L569.45 168.88 L569.66 167.06 L569.88 165.67 L570.09 164.73 L570.3 164.3 L570.5 164.39 L570.71 164.55 L570.91 164.77 L571.12 165.04 L571.32 165.38 L571.53 165.77 L571.73 166.22 L571.93 166.72 L572.14 167.28 L572.34 167.88 L572.55 168.54 L572.75 169.23 L572.96 169.97 L573.16 170.75 L573.37 171.56 L573.57 172.41 L573.77 173.28 L573.98 174.18 L574.18 175.1 L574.39 176.04 L574.59 176.98 L574.8 177.94 L575 178.9 L575.21 176.89 L575.42 174.95 L575.64 173.15 L575.85 171.56 L576.06 170.22 L576.28 169.2 L576.49 168.52 L576.7 168.2 L576.9 168.26 L577.11 168.36 L577.31 168.5 L577.52 168.67 L577.72 168.89 L577.92 169.13 L578.13 169.42 L578.33 169.73 L578.54 170.08 L578.74 170.47 L578.94 170.88 L579.15 171.32 L579.35 171.79 L579.56 172.29 L579.76 172.81 L579.96 173.35 L580.17 173.92 L580.37 174.5 L580.58 175.1 L580.78 175.71 L580.98 176.33 L581.19 176.97 L581.39 177.61 L581.6 178.25 L581.8 178.9 L582.01 177.51 L582.22 176.17 L582.44 174.92 L582.65 173.82 L582.86 172.9 L583.08 172.19 L583.29 171.72 L583.5 171.5 L583.7 171.54 L583.91 171.61 L584.11 171.71 L584.32 171.83 L584.52 171.97 L584.72 172.15 L584.93 172.34 L585.13 172.56 L585.34 172.8 L585.54 173.07 L585.74 173.35 L585.95 173.66 L586.15 173.99 L586.36 174.33 L586.56 174.69 L586.76 175.06 L586.97 175.45 L587.17 175.86 L587.38 176.27 L587.58 176.69 L587.78 177.13 L587.99 177.56 L588.19 178.01 L588.4 178.45 L588.6 178.9 L588.81 178.17 L589.02 177.46 L589.24 176.8 L589.45 176.22 L589.66 175.74 L589.88 175.36 L590.09 175.12 L590.3 175 L590.5 175.03 L590.71 175.07 L590.91 175.12 L591.12 175.2 L591.32 175.29 L591.53 175.39 L591.73 175.51 L591.93 175.65 L592.14 175.8 L592.34 175.96 L592.55 176.13 L592.75 176.32 L592.96 176.52 L593.16 176.72 L593.37 176.94 L593.57 177.17 L593.77 177.4 L593.98 177.64 L594.18 177.89 L594.39 178.13 L594.59 178.39 L594.8 178.64 L595 178.9 L595.21 178.34 L595.42 177.79 L595.64 177.29 L595.85 176.84 L596.06 176.47 L596.28 176.18 L596.49 175.99 L596.7 175.9 L596.9 175.93 L597.11 175.98 L597.31 176.04 L597.52 176.13 L597.72 176.23 L597.92 176.34 L598.13 176.48 L598.33 176.63 L598.54 176.8 L598.74 176.98 L598.94 177.18 L599.15 177.39 L599.35 177.61 L599.56 177.85 L599.76 178.1 L599.96 178.36 L600.17 178.63 L600.37 178.9 L600.58 179.19 L600.78 179.48 L600.98 179.78 L601.19 180.08 L601.39 180.38 L601.6 180.69 L601.8 181 L602.01 180.29 L602.22 179.6 L602.44 178.96 L602.65 178.39 L602.86 177.92 L603.08 177.56 L603.29 177.31 L603.5 177.2 L603.7 177.21 L603.91 177.22 L604.11 177.24 L604.32 177.26 L604.52 177.28 L604.72 177.31 L604.93 177.35 L605.13 177.39 L605.33 177.43 L605.54 177.48 L605.74 177.53 L605.95 177.58 L606.15 177.64 L606.35 177.7 L606.56 177.76 L606.76 177.83 L606.97 177.9 L607.17 177.97 L607.37 178.05 L607.58 178.12 L607.78 178.2 L607.98 178.28 L608.19 178.36 L608.39 178.44 L608.6 178.52 L608.8 178.6 L609.01 178.34 L609.22 178.08 L609.44 177.85 L609.65 177.64 L609.86 177.46 L610.08 177.33 L610.29 177.24 L610.5 177.2 L610.7 177.21 L610.9 177.22 L611.1 177.24 L611.3 177.26 L611.5 177.29 L611.7 177.32 L611.9 177.36 L612.1 177.4 L612.3 177.45 L612.5 177.5 L612.7 177.55 L612.9 177.61 L613.1 177.67 L613.3 177.74 L613.5 177.8 L613.7 177.87 L613.9 177.95 L614.1 178.02 L614.3 178.1 L614.5 178.18 L614.7 178.26 L614.9 178.35 L615.1 178.43 L615.3 178.52 L615.5 178.6 L615.71 178.04 L615.92 177.49 L616.14 176.99 L616.35 176.54 L616.56 176.17 L616.78 175.88 L616.99 175.69 L617.2 175.6 L617.4 175.62 L617.61 175.65 L617.81 175.68 L618.02 175.73 L618.22 175.79 L618.42 175.86 L618.63 175.94 L618.83 176.03 L619.04 176.13 L619.24 176.24 L619.44 176.35 L619.65 176.48 L619.85 176.61 L620.06 176.75 L620.26 176.89 L620.46 177.05 L620.67 177.2 L620.87 177.37 L621.08 177.53 L621.28 177.71 L621.48 177.88 L621.69 178.06 L621.89 178.24 L622.1 178.42 L622.3 178.6 L622.51 178.36 L622.72 178.12 L622.94 177.9 L623.15 177.71 L623.36 177.55 L623.58 177.42 L623.79 177.34 L624 177.3 L624.2 177.31 L624.41 177.32 L624.61 177.34 L624.82 177.37 L625.02 177.4 L625.23 177.44 L625.43 177.48 L625.64 177.53 L625.84 177.59 L626.05 177.64 L626.25 177.71 L626.45 177.77 L626.66 177.85 L626.86 177.92 L627.07 178 L627.27 178.08 L627.48 178.16 L627.68 178.25 L627.89 178.33 L628.09 178.42 L628.3 178.51 L628.5 178.6 L628.71 178.36 L628.92 178.12 L629.14 177.9 L629.35 177.71 L629.56 177.55 L629.78 177.42 L629.99 177.34 L630.2 177.3 L630.41 177.31 L630.62 177.32 L630.82 177.33 L631.03 177.35 L631.24 177.38 L631.45 177.41 L631.65 177.44 L631.86 177.47 L632.07 177.51 L632.28 177.56 L632.48 177.6 L632.69 177.65 L632.9 177.71 L633.11 177.76 L633.32 177.82 L633.52 177.89 L633.73 177.95 L633.94 178.02 L634.15 178.08 L634.35 178.16 L634.56 178.23 L634.77 178.3 L634.98 178.37 L635.18 178.45 L635.39 178.52 L635.6 178.6 L635.81 178.41 L636.02 178.23 L636.24 178.06 L636.45 177.91 L636.66 177.79 L636.88 177.69 L637.09 177.63 L637.3 177.6 L637.51 177.62 L637.72 177.65 L637.93 177.7 L638.13 177.75 L638.34 177.82 L638.55 177.9 L638.76 177.99 L638.97 178.1 L639.18 178.21 L639.39 178.34 L639.6 178.47 L639.8 178.61 L640.01 178.77 L640.22 178.93 L640.43 179.09 L640.64 179.27 L640.85 179.45 L641.06 179.63 L641.27 179.82 L641.47 180.01 L641.68 180.21 L641.89 180.4 L642.1 180.6 L642.31 180.07 L642.52 179.57 L642.74 179.09 L642.95 178.68 L643.16 178.33 L643.38 178.06 L643.59 177.88 L643.8 177.8 L644 177.81 L644.2 177.82 L644.4 177.83 L644.6 177.85 L644.8 177.87 L645 177.89 L645.2 177.92 L645.4 177.96 L645.6 177.99 L645.8 178.03 L646 178.07 L646.2 178.12 L646.4 178.16 L646.6 178.21 L646.8 178.26 L647 178.32 L647.2 178.37 L647.4 178.43 L647.6 178.49 L647.8 178.54 L648 178.6 L648.21 178.3 L648.42 178.01 L648.64 177.74 L648.85 177.5 L649.06 177.3 L649.28 177.15 L649.49 177.05 L649.7 177 L649.9 177.01 L650.11 177.02 L650.31 177.04 L650.52 177.07 L650.72 177.1 L650.92 177.13 L651.13 177.17 L651.33 177.21 L651.53 177.26 L651.74 177.32 L651.94 177.37 L652.15 177.44 L652.35 177.5 L652.55 177.57 L652.76 177.64 L652.96 177.72 L653.17 177.8 L653.37 177.88 L653.57 177.97 L653.78 178.05 L653.98 178.14 L654.18 178.23 L654.39 178.32 L654.59 178.41 L654.8 178.51 L655 178.6 L655.21 178.17 L655.42 177.75 L655.64 177.36 L655.85 177.02 L656.06 176.74 L656.28 176.52 L656.49 176.37 L656.7 176.3 L656.9 176.31 L657.11 176.33 L657.31 176.36 L657.52 176.4 L657.72 176.44 L657.92 176.49 L658.13 176.54 L658.33 176.61 L658.53 176.68 L658.74 176.75 L658.94 176.84 L659.15 176.93 L659.35 177.02 L659.55 177.12 L659.76 177.23 L659.96 177.34 L660.17 177.45 L660.37 177.57 L660.57 177.69 L660.78 177.81 L660.98 177.94 L661.18 178.07 L661.39 178.2 L661.59 178.33 L661.8 178.47 L662 178.6 L662.21 178.19 L662.42 177.79 L662.64 177.42 L662.85 177.09 L663.06 176.82 L663.28 176.61 L663.49 176.47 L663.7 176.4 L663.91 176.42 L664.12 176.44 L664.33 176.48 L664.54 176.52 L664.75 176.57 L664.95 176.64 L665.16 176.71 L665.37 176.79 L665.58 176.88 L665.79 176.98 L666 177.09 L666.21 177.2 L666.42 177.32 L666.63 177.45 L666.84 177.58 L667.05 177.72 L667.25 177.86 L667.46 178 L667.67 178.15 L667.88 178.3 L668.09 178.45 L668.3 178.6 L668.51 178.17 L668.72 177.75 L668.94 177.36 L669.15 177.02 L669.36 176.74 L669.58 176.52 L669.79 176.37 L670 176.3 L670.2 176.31 L670.41 176.33 L670.61 176.36 L670.82 176.4 L671.02 176.44 L671.22 176.49 L671.43 176.54 L671.63 176.61 L671.83 176.68 L672.04 176.75 L672.24 176.84 L672.45 176.93 L672.65 177.02 L672.85 177.12 L673.06 177.23 L673.26 177.34 L673.47 177.45 L673.67 177.57 L673.87 177.69 L674.08 177.81 L674.28 177.94 L674.48 178.07 L674.69 178.2 L674.89 178.33 L675.1 178.47 L675.3 178.6 L675.51 178.19 L675.72 177.79 L675.94 177.42 L676.15 177.09 L676.36 176.82 L676.58 176.61 L676.79 176.47 L677 176.4 L677.2 176.43 L677.4 176.48 L677.6 176.55 L677.8 176.65 L678 176.77 L678.2 176.91 L678.4 177.07 L678.6 177.24 L678.8 177.43 L679 177.64 L679.2 177.86 L679.4 178.08 L679.6 178.32 L679.8 178.56 L680 178.8 L680.2 178.8 L680.4 178.8 L680.6 178.8 L680.8 178.8 L681 178.8 L681.2 178.8 L681.4 178.8 L681.6 178.8 L681.8 178.8 L682 178.8 L682.2 178.8 L682.4 178.8 L682.6 178.8 L682.8 178.8 L683 178.8 L683.2 178.8 L683.4 178.8 L683.6 178.8 L683.8 178.8 L684 178.8 L684.2 178.8 L684.4 178.8 L684.6 178.8 L684.8 178.8 L685 178.8 L685.2 178.8 L685.4 178.8 L685.6 178.8 L685.8 178.8 L686 178.8" fill="none" stroke="#222" stroke-width="0.9" stroke-linejoin="round"/>
<text x="663.6" y="28.4" font-size="14.5" text-anchor="start" font-weight="bold" fill="#000">c</text>
<text transform="translate(9.3,92.5) rotate(-90)" font-size="10.7" text-anchor="middle">Heat flow (nW)</text>
<rect x="40.3" y="229.3" width="172.6" height="172.8" fill="none" stroke="#666" stroke-width="1.05"/>
<text x="36.7" y="404.2" font-size="7.4" text-anchor="end" >0</text>
<line x1="40.3" y1="387.7" x2="41.7" y2="387.7" stroke="#666" stroke-width="0.8"/>
<line x1="40.3" y1="373.3" x2="43" y2="373.3" stroke="#666" stroke-width="0.8"/>
<text x="36.7" y="375.4" font-size="7.4" text-anchor="end" >5</text>
<line x1="40.3" y1="358.9" x2="41.7" y2="358.9" stroke="#666" stroke-width="0.8"/>
<line x1="40.3" y1="344.5" x2="43" y2="344.5" stroke="#666" stroke-width="0.8"/>
<text x="36.7" y="346.6" font-size="7.4" text-anchor="end" >10</text>
<line x1="40.3" y1="330.1" x2="41.7" y2="330.1" stroke="#666" stroke-width="0.8"/>
<line x1="40.3" y1="315.7" x2="43" y2="315.7" stroke="#666" stroke-width="0.8"/>
<text x="36.7" y="317.8" font-size="7.4" text-anchor="end" >15</text>
<line x1="40.3" y1="301.3" x2="41.7" y2="301.3" stroke="#666" stroke-width="0.8"/>
<line x1="40.3" y1="286.9" x2="43" y2="286.9" stroke="#666" stroke-width="0.8"/>
<text x="36.7" y="289" font-size="7.4" text-anchor="end" >20</text>
<line x1="40.3" y1="272.5" x2="41.7" y2="272.5" stroke="#666" stroke-width="0.8"/>
<line x1="40.3" y1="258.1" x2="43" y2="258.1" stroke="#666" stroke-width="0.8"/>
<text x="36.7" y="260.2" font-size="7.4" text-anchor="end" >25</text>
<line x1="40.3" y1="243.7" x2="41.7" y2="243.7" stroke="#666" stroke-width="0.8"/>
<text x="36.7" y="231.4" font-size="7.4" text-anchor="end" >30</text>
<line x1="54.2" y1="402.1" x2="54.2" y2="399.2" stroke="#666" stroke-width="0.8"/>
<text x="54.2" y="412.3" font-size="7.4" text-anchor="middle" >0</text>
<line x1="68.67" y1="402.1" x2="68.67" y2="400.7" stroke="#666" stroke-width="0.8"/>
<line x1="83.15" y1="402.1" x2="83.15" y2="399.2" stroke="#666" stroke-width="0.8"/>
<text x="83.15" y="412.3" font-size="7.4" text-anchor="middle" >50</text>
<line x1="97.62" y1="402.1" x2="97.62" y2="400.7" stroke="#666" stroke-width="0.8"/>
<line x1="112.1" y1="402.1" x2="112.1" y2="399.2" stroke="#666" stroke-width="0.8"/>
<text x="112.1" y="412.3" font-size="7.4" text-anchor="middle" >100</text>
<line x1="126.58" y1="402.1" x2="126.58" y2="400.7" stroke="#666" stroke-width="0.8"/>
<line x1="141.05" y1="402.1" x2="141.05" y2="399.2" stroke="#666" stroke-width="0.8"/>
<text x="141.05" y="412.3" font-size="7.4" text-anchor="middle" >150</text>
<line x1="155.52" y1="402.1" x2="155.52" y2="400.7" stroke="#666" stroke-width="0.8"/>
<line x1="170" y1="402.1" x2="170" y2="399.2" stroke="#666" stroke-width="0.8"/>
<text x="170" y="412.3" font-size="7.4" text-anchor="middle" >200</text>
<line x1="184.47" y1="402.1" x2="184.47" y2="400.7" stroke="#666" stroke-width="0.8"/>
<line x1="198.95" y1="402.1" x2="198.95" y2="399.2" stroke="#666" stroke-width="0.8"/>
<text x="198.95" y="412.3" font-size="7.4" text-anchor="middle" >250</text>
<text x="126.5" y="426" font-size="7.6" text-anchor="middle" >Volume (uL)</text>
<path d="M56.6 394.91 L57.6 391.44 L58.6 387.98 L59.6 384.52 L60.6 381.07 L61.6 377.64 L62.6 374.24 L63.6 370.86 L64.6 367.51 L65.6 364.21 L66.6 360.94 L67.6 357.72 L68.6 354.55 L69.6 351.43 L70.6 348.37 L71.6 345.37 L72.6 342.44 L73.6 339.56 L74.6 336.76 L75.6 334.02 L76.6 331.36 L77.6 328.76 L78.6 326.25 L79.6 323.8 L80.6 321.44 L81.6 319.15 L82.6 316.93 L83.6 314.8 L84.6 312.74 L85.6 310.75 L86.6 308.84 L87.6 307 L88.6 305.24 L89.6 303.54 L90.6 301.91 L91.6 300.35 L92.6 298.85 L93.6 297.41 L94.6 296.02 L95.6 294.69 L96.6 293.41 L97.6 292.18 L98.6 290.99 L99.6 289.85 L100.6 288.75 L101.6 287.69 L102.6 286.66 L103.6 285.67 L104.6 284.71 L105.6 283.78 L106.6 282.88 L107.6 282.01 L108.6 281.16 L109.6 280.34 L110.6 279.54 L111.6 278.75 L112.6 277.99 L113.6 277.25 L114.6 276.53 L115.6 275.82 L116.6 275.12 L117.6 274.44 L118.6 273.78 L119.6 273.13 L120.6 272.49 L121.6 271.86 L122.6 271.25 L123.6 270.65 L124.6 270.06 L125.6 269.48 L126.6 268.91 L127.6 268.36 L128.6 267.81 L129.6 267.28 L130.6 266.76 L131.6 266.25 L132.6 265.76 L133.6 265.27 L134.6 264.8 L135.6 264.34 L136.6 263.89 L137.6 263.46 L138.6 263.03 L139.6 262.62 L140.6 262.21 L141.6 261.82 L142.6 261.44 L143.6 261.08 L144.6 260.72 L145.6 260.37 L146.6 260.03 L147.6 259.71 L148.6 259.39 L149.6 259.08 L150.6 258.79 L151.6 258.5 L152.6 258.22 L153.6 257.95 L154.6 257.68 L155.6 257.43 L156.6 257.18 L157.6 256.95 L158.6 256.71 L159.6 256.49 L160.6 256.27 L161.6 256.05 L162.6 255.85 L163.6 255.64 L164.6 255.45 L165.6 255.25 L166.6 255.06 L167.6 254.88 L168.6 254.69 L169.6 254.52 L170.6 254.34 L171.6 254.17 L172.6 254 L173.6 253.84 L174.6 253.67 L175.6 253.52 L176.6 253.36 L177.6 253.21 L178.6 253.06 L179.6 252.92 L180.6 252.78 L181.6 252.65 L182.6 252.52 L183.6 252.4 L184.6 252.28 L185.6 252.17 L186.6 252.06 L187.6 251.96 L188.6 251.87 L189.6 251.79 L190.6 251.71 L191.6 251.65 L192.6 251.59 L193.6 251.55 L194.6 251.52 L195.3 251.5" fill="none" stroke="#111" stroke-width="1.15"/>
<circle cx="56.6" cy="395.4" r="1.35" fill="#000"/>
<circle cx="62.7" cy="375.9" r="1.35" fill="#000"/>
<circle cx="68.5" cy="358.5" r="1.35" fill="#000"/>
<circle cx="74.3" cy="341.6" r="1.35" fill="#000"/>
<circle cx="80.1" cy="325.1" r="1.35" fill="#000"/>
<circle cx="85.6" cy="303.8" r="1.35" fill="#000"/>
<circle cx="91.7" cy="297.4" r="1.35" fill="#000"/>
<circle cx="97.3" cy="292.2" r="1.35" fill="#000"/>
<circle cx="102.8" cy="287.9" r="1.35" fill="#000"/>
<circle cx="108.5" cy="283.3" r="1.35" fill="#000"/>
<circle cx="114.8" cy="279.1" r="1.35" fill="#000"/>
<circle cx="120.5" cy="275.8" r="1.35" fill="#000"/>
<circle cx="126.3" cy="272.5" r="1.35" fill="#000"/>
<circle cx="132" cy="269.2" r="1.35" fill="#000"/>
<circle cx="137.8" cy="266" r="1.35" fill="#000"/>
<circle cx="143.5" cy="263.5" r="1.35" fill="#000"/>
<circle cx="149.3" cy="261.4" r="1.35" fill="#000"/>
<circle cx="155" cy="258.9" r="1.35" fill="#000"/>
<circle cx="160.8" cy="256.9" r="1.35" fill="#000"/>
<circle cx="166.5" cy="255.1" r="1.35" fill="#000"/>
<circle cx="172.3" cy="253.1" r="1.35" fill="#000"/>
<circle cx="178" cy="251.8" r="1.35" fill="#000"/>
<circle cx="183.8" cy="250.3" r="1.35" fill="#000"/>
<circle cx="189.5" cy="251.2" r="1.35" fill="#000"/>
<circle cx="195.3" cy="251.8" r="1.35" fill="#000"/>
<rect x="273.7" y="233.3" width="174.8" height="170.9" fill="none" stroke="#666" stroke-width="1.05"/>
<text x="270.3" y="406.3" font-size="7.4" text-anchor="end" >0</text>
<line x1="273.7" y1="387.11" x2="275.1" y2="387.11" stroke="#666" stroke-width="0.8"/>
<line x1="273.7" y1="370.02" x2="276.4" y2="370.02" stroke="#666" stroke-width="0.8"/>
<text x="270.3" y="372.12" font-size="7.4" text-anchor="end" >5</text>
<line x1="273.7" y1="352.93" x2="275.1" y2="352.93" stroke="#666" stroke-width="0.8"/>
<line x1="273.7" y1="335.84" x2="276.4" y2="335.84" stroke="#666" stroke-width="0.8"/>
<text x="270.3" y="337.94" font-size="7.4" text-anchor="end" >10</text>
<line x1="273.7" y1="318.75" x2="275.1" y2="318.75" stroke="#666" stroke-width="0.8"/>
<line x1="273.7" y1="301.66" x2="276.4" y2="301.66" stroke="#666" stroke-width="0.8"/>
<text x="270.3" y="303.76" font-size="7.4" text-anchor="end" >15</text>
<line x1="273.7" y1="284.57" x2="275.1" y2="284.57" stroke="#666" stroke-width="0.8"/>
<line x1="273.7" y1="267.48" x2="276.4" y2="267.48" stroke="#666" stroke-width="0.8"/>
<text x="270.3" y="269.58" font-size="7.4" text-anchor="end" >20</text>
<line x1="273.7" y1="250.39" x2="275.1" y2="250.39" stroke="#666" stroke-width="0.8"/>
<text x="270.3" y="235.4" font-size="7.4" text-anchor="end" >25</text>
<line x1="288.1" y1="404.2" x2="288.1" y2="401.3" stroke="#666" stroke-width="0.8"/>
<text x="288.1" y="414.1" font-size="7.4" text-anchor="middle" >0</text>
<line x1="302.69" y1="404.2" x2="302.69" y2="402.8" stroke="#666" stroke-width="0.8"/>
<line x1="317.28" y1="404.2" x2="317.28" y2="401.3" stroke="#666" stroke-width="0.8"/>
<text x="317.28" y="414.1" font-size="7.4" text-anchor="middle" >50</text>
<line x1="331.86" y1="404.2" x2="331.86" y2="402.8" stroke="#666" stroke-width="0.8"/>
<line x1="346.45" y1="404.2" x2="346.45" y2="401.3" stroke="#666" stroke-width="0.8"/>
<text x="346.45" y="414.1" font-size="7.4" text-anchor="middle" >100</text>
<line x1="361.04" y1="404.2" x2="361.04" y2="402.8" stroke="#666" stroke-width="0.8"/>
<line x1="375.62" y1="404.2" x2="375.62" y2="401.3" stroke="#666" stroke-width="0.8"/>
<text x="375.62" y="414.1" font-size="7.4" text-anchor="middle" >150</text>
<line x1="390.21" y1="404.2" x2="390.21" y2="402.8" stroke="#666" stroke-width="0.8"/>
<line x1="404.8" y1="404.2" x2="404.8" y2="401.3" stroke="#666" stroke-width="0.8"/>
<text x="404.8" y="414.1" font-size="7.4" text-anchor="middle" >200</text>
<line x1="419.39" y1="404.2" x2="419.39" y2="402.8" stroke="#666" stroke-width="0.8"/>
<line x1="433.98" y1="404.2" x2="433.98" y2="401.3" stroke="#666" stroke-width="0.8"/>
<text x="433.98" y="414.1" font-size="7.4" text-anchor="middle" >250</text>
<text x="361" y="427.8" font-size="7.6" text-anchor="middle" >Volume (uL)</text>
<path d="M291.1 404.02 L292.1 396.24 L293.1 388.71 L294.1 381.5 L295.1 374.67 L296.1 368.27 L297.1 362.31 L298.1 356.79 L299.1 351.69 L300.1 346.99 L301.1 342.62 L302.1 338.51 L303.1 334.61 L304.1 330.88 L305.1 327.26 L306.1 323.75 L307.1 320.33 L308.1 317 L309.1 313.78 L310.1 310.69 L311.1 307.76 L312.1 305.01 L313.1 302.45 L314.1 300.08 L315.1 297.91 L316.1 295.94 L317.1 294.15 L318.1 292.55 L319.1 291.1 L320.1 289.79 L321.1 288.59 L322.1 287.48 L323.1 286.43 L324.1 285.45 L325.1 284.5 L326.1 283.59 L327.1 282.72 L328.1 281.87 L329.1 281.06 L330.1 280.28 L331.1 279.53 L332.1 278.81 L333.1 278.11 L334.1 277.44 L335.1 276.79 L336.1 276.17 L337.1 275.57 L338.1 274.99 L339.1 274.43 L340.1 273.89 L341.1 273.37 L342.1 272.87 L343.1 272.38 L344.1 271.91 L345.1 271.45 L346.1 271.01 L347.1 270.58 L348.1 270.17 L349.1 269.77 L350.1 269.38 L351.1 269 L352.1 268.63 L353.1 268.27 L354.1 267.92 L355.1 267.58 L356.1 267.25 L357.1 266.93 L358.1 266.61 L359.1 266.31 L360.1 266.01 L361.1 265.72 L362.1 265.44 L363.1 265.16 L364.1 264.89 L365.1 264.63 L366.1 264.37 L367.1 264.12 L368.1 263.87 L369.1 263.64 L370.1 263.4 L371.1 263.18 L372.1 262.96 L373.1 262.74 L374.1 262.53 L375.1 262.32 L376.1 262.12 L377.1 261.92 L378.1 261.73 L379.1 261.55 L380.1 261.36 L381.1 261.19 L382.1 261.01 L383.1 260.84 L384.1 260.68 L385.1 260.51 L386.1 260.36 L387.1 260.2 L388.1 260.05 L389.1 259.9 L390.1 259.76 L391.1 259.62 L392.1 259.48 L393.1 259.35 L394.1 259.22 L395.1 259.09 L396.1 258.97 L397.1 258.85 L398.1 258.73 L399.1 258.62 L400.1 258.51 L401.1 258.4 L402.1 258.3 L403.1 258.2 L404.1 258.1 L405.1 258 L406.1 257.91 L407.1 257.82 L408.1 257.73 L409.1 257.65 L410.1 257.57 L411.1 257.5 L412.1 257.42 L413.1 257.35 L414.1 257.28 L415.1 257.22 L416.1 257.16 L417.1 257.1 L418.1 257.05 L419.1 257 L420.1 256.96 L421.1 256.91 L422.1 256.87 L423.1 256.84 L424.1 256.81 L425.1 256.78 L426.1 256.76 L427.1 256.74 L428.1 256.73 L429.1 256.72 L430.1 256.71 L430.7 256.71" fill="none" stroke="#111" stroke-width="1.15"/>
<circle cx="296.7" cy="370.3" r="1.35" fill="#000"/>
<circle cx="302.3" cy="345.3" r="1.35" fill="#000"/>
<circle cx="308.4" cy="317.3" r="1.35" fill="#000"/>
<circle cx="314" cy="294.7" r="1.35" fill="#000"/>
<circle cx="319.7" cy="288.8" r="1.35" fill="#000"/>
<circle cx="325.7" cy="284.1" r="1.35" fill="#000"/>
<circle cx="331.6" cy="280.5" r="1.35" fill="#000"/>
<circle cx="337.5" cy="277.6" r="1.35" fill="#000"/>
<circle cx="343.4" cy="274.6" r="1.35" fill="#000"/>
<circle cx="349" cy="272.2" r="1.35" fill="#000"/>
<circle cx="354.9" cy="269.7" r="1.35" fill="#000"/>
<circle cx="360.7" cy="267.9" r="1.35" fill="#000"/>
<circle cx="366.7" cy="266" r="1.35" fill="#000"/>
<circle cx="372.5" cy="264.3" r="1.35" fill="#000"/>
<circle cx="378.1" cy="262.9" r="1.35" fill="#000"/>
<circle cx="384" cy="261.4" r="1.35" fill="#000"/>
<circle cx="389.7" cy="260" r="1.35" fill="#000"/>
<circle cx="395.7" cy="258.9" r="1.35" fill="#000"/>
<circle cx="401.4" cy="257.9" r="1.35" fill="#000"/>
<circle cx="407.1" cy="257.1" r="1.35" fill="#000"/>
<circle cx="413.1" cy="256.4" r="1.35" fill="#000"/>
<circle cx="418.9" cy="255.7" r="1.35" fill="#000"/>
<circle cx="424.7" cy="255.7" r="1.35" fill="#000"/>
<circle cx="430.7" cy="256.1" r="1.35" fill="#000"/>
<rect x="514.5" y="229.3" width="176.2" height="167" fill="none" stroke="#666" stroke-width="1.05"/>
<text x="511" y="398.4" font-size="7.4" text-anchor="end" >0</text>
<line x1="514.5" y1="368.47" x2="515.9" y2="368.47" stroke="#666" stroke-width="0.8"/>
<line x1="514.5" y1="340.63" x2="517.2" y2="340.63" stroke="#666" stroke-width="0.8"/>
<text x="511" y="342.73" font-size="7.4" text-anchor="end" >5</text>
<line x1="514.5" y1="312.8" x2="515.9" y2="312.8" stroke="#666" stroke-width="0.8"/>
<line x1="514.5" y1="284.97" x2="517.2" y2="284.97" stroke="#666" stroke-width="0.8"/>
<text x="511" y="287.07" font-size="7.4" text-anchor="end" >10</text>
<line x1="514.5" y1="257.13" x2="515.9" y2="257.13" stroke="#666" stroke-width="0.8"/>
<text x="511" y="231.4" font-size="7.4" text-anchor="end" >15</text>
<line x1="529.3" y1="396.3" x2="529.3" y2="393.4" stroke="#666" stroke-width="0.8"/>
<text x="529.3" y="406.2" font-size="7.4" text-anchor="middle" >0</text>
<line x1="544" y1="396.3" x2="544" y2="394.9" stroke="#666" stroke-width="0.8"/>
<line x1="558.7" y1="396.3" x2="558.7" y2="393.4" stroke="#666" stroke-width="0.8"/>
<text x="558.7" y="406.2" font-size="7.4" text-anchor="middle" >50</text>
<line x1="573.4" y1="396.3" x2="573.4" y2="394.9" stroke="#666" stroke-width="0.8"/>
<line x1="588.1" y1="396.3" x2="588.1" y2="393.4" stroke="#666" stroke-width="0.8"/>
<text x="588.1" y="406.2" font-size="7.4" text-anchor="middle" >100</text>
<line x1="602.8" y1="396.3" x2="602.8" y2="394.9" stroke="#666" stroke-width="0.8"/>
<line x1="617.5" y1="396.3" x2="617.5" y2="393.4" stroke="#666" stroke-width="0.8"/>
<text x="617.5" y="406.2" font-size="7.4" text-anchor="middle" >150</text>
<line x1="632.2" y1="396.3" x2="632.2" y2="394.9" stroke="#666" stroke-width="0.8"/>
<line x1="646.9" y1="396.3" x2="646.9" y2="393.4" stroke="#666" stroke-width="0.8"/>
<text x="646.9" y="406.2" font-size="7.4" text-anchor="middle" >200</text>
<line x1="661.6" y1="396.3" x2="661.6" y2="394.9" stroke="#666" stroke-width="0.8"/>
<line x1="676.3" y1="396.3" x2="676.3" y2="393.4" stroke="#666" stroke-width="0.8"/>
<text x="676.3" y="406.2" font-size="7.4" text-anchor="middle" >250</text>
<text x="602.5" y="419.8" font-size="7.6" text-anchor="middle" >Volume (uL)</text>
<path d="M532.4 395.97 L533.4 390.57 L534.4 385.33 L535.4 380.26 L536.4 375.33 L537.4 370.56 L538.4 365.92 L539.4 361.43 L540.4 357.07 L541.4 352.84 L542.4 348.74 L543.4 344.76 L544.4 340.91 L545.4 337.18 L546.4 333.58 L547.4 330.09 L548.4 326.72 L549.4 323.48 L550.4 320.35 L551.4 317.35 L552.4 314.46 L553.4 311.7 L554.4 309.05 L555.4 306.52 L556.4 304.11 L557.4 301.81 L558.4 299.62 L559.4 297.55 L560.4 295.58 L561.4 293.71 L562.4 291.95 L563.4 290.29 L564.4 288.71 L565.4 287.23 L566.4 285.83 L567.4 284.51 L568.4 283.27 L569.4 282.09 L570.4 280.97 L571.4 279.92 L572.4 278.91 L573.4 277.95 L574.4 277.04 L575.4 276.17 L576.4 275.33 L577.4 274.53 L578.4 273.76 L579.4 273.02 L580.4 272.3 L581.4 271.6 L582.4 270.93 L583.4 270.27 L584.4 269.64 L585.4 269.02 L586.4 268.42 L587.4 267.83 L588.4 267.26 L589.4 266.7 L590.4 266.16 L591.4 265.63 L592.4 265.11 L593.4 264.61 L594.4 264.12 L595.4 263.63 L596.4 263.16 L597.4 262.7 L598.4 262.25 L599.4 261.81 L600.4 261.38 L601.4 260.96 L602.4 260.55 L603.4 260.15 L604.4 259.75 L605.4 259.36 L606.4 258.99 L607.4 258.62 L608.4 258.25 L609.4 257.9 L610.4 257.55 L611.4 257.21 L612.4 256.88 L613.4 256.56 L614.4 256.24 L615.4 255.93 L616.4 255.63 L617.4 255.33 L618.4 255.04 L619.4 254.76 L620.4 254.48 L621.4 254.21 L622.4 253.95 L623.4 253.69 L624.4 253.44 L625.4 253.19 L626.4 252.95 L627.4 252.71 L628.4 252.48 L629.4 252.25 L630.4 252.03 L631.4 251.82 L632.4 251.61 L633.4 251.4 L634.4 251.2 L635.4 251 L636.4 250.81 L637.4 250.62 L638.4 250.44 L639.4 250.26 L640.4 250.08 L641.4 249.91 L642.4 249.74 L643.4 249.58 L644.4 249.41 L645.4 249.26 L646.4 249.1 L647.4 248.95 L648.4 248.81 L649.4 248.66 L650.4 248.52 L651.4 248.39 L652.4 248.25 L653.4 248.12 L654.4 247.99 L655.4 247.87 L656.4 247.74 L657.4 247.62 L658.4 247.51 L659.4 247.39 L660.4 247.28 L661.4 247.17 L662.4 247.06 L663.4 246.96 L664.4 246.86 L665.4 246.76 L666.4 246.66 L667.4 246.56 L668.4 246.47 L669.4 246.38 L670.4 246.29 L671.4 246.2 L672.4 246.12 L673.1 246.06" fill="none" stroke="#111" stroke-width="1.15"/>
<circle cx="537.7" cy="371.4" r="1.35" fill="#000"/>
<circle cx="543.6" cy="347.8" r="1.35" fill="#000"/>
<circle cx="549.4" cy="326.5" r="1.35" fill="#000"/>
<circle cx="555.2" cy="307.7" r="1.35" fill="#000"/>
<circle cx="561.2" cy="290.7" r="1.35" fill="#000"/>
<circle cx="567.1" cy="281" r="1.35" fill="#000"/>
<circle cx="573.3" cy="277.2" r="1.35" fill="#000"/>
<circle cx="578.9" cy="274.3" r="1.35" fill="#000"/>
<circle cx="584.8" cy="271.5" r="1.35" fill="#000"/>
<circle cx="590.7" cy="268.2" r="1.35" fill="#000"/>
<circle cx="596.6" cy="265.8" r="1.35" fill="#000"/>
<circle cx="602.5" cy="263.3" r="1.35" fill="#000"/>
<circle cx="608.2" cy="260.9" r="1.35" fill="#000"/>
<circle cx="614.1" cy="258.8" r="1.35" fill="#000"/>
<circle cx="620" cy="256.4" r="1.35" fill="#000"/>
<circle cx="626" cy="254.5" r="1.35" fill="#000"/>
<circle cx="631.9" cy="252.9" r="1.35" fill="#000"/>
<circle cx="637.6" cy="251.1" r="1.35" fill="#000"/>
<circle cx="643.6" cy="248.6" r="1.35" fill="#000"/>
<circle cx="649.6" cy="247.1" r="1.35" fill="#000"/>
<circle cx="655.4" cy="246.1" r="1.35" fill="#000"/>
<circle cx="661.4" cy="245.4" r="1.35" fill="#000"/>
<circle cx="667.1" cy="245.4" r="1.35" fill="#000"/>
<circle cx="673.1" cy="245.4" r="1.35" fill="#000"/>
<text transform="translate(23.3,320) rotate(-90)" font-size="7.4" letter-spacing="0.41" text-anchor="middle">Accumulated heat (mJ)</text>
</svg>
</body></html>
